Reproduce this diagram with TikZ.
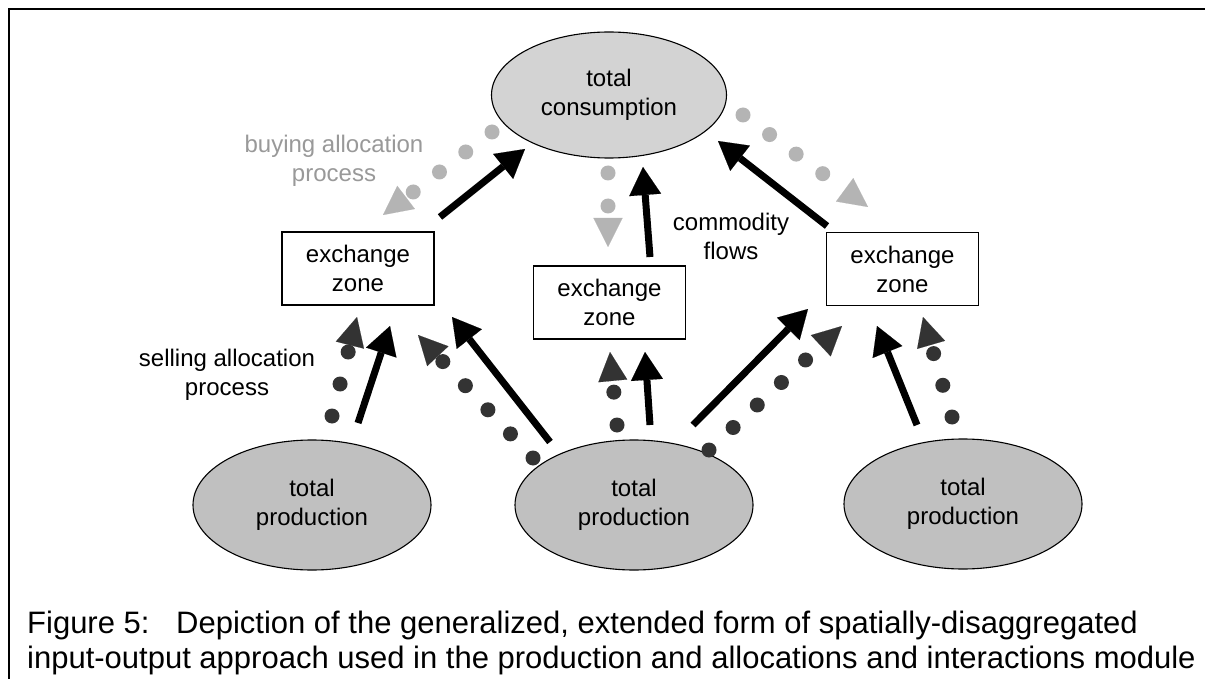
\documentclass[tikz,border=0pt]{standalone}
\usepackage{fontspec}
\setmainfont{Liberation Sans}
\usetikzlibrary{shapes.geometric,arrows.meta}
\definecolor{consfill}{HTML}{D3D3D3}
\definecolor{prodfill}{HTML}{C0C0C0}
\definecolor{lightdot}{HTML}{B4B4B4}
\definecolor{buytext}{HTML}{999999}
\definecolor{darkdot}{HTML}{333333}
\begin{document}
\begin{tikzpicture}[x=1pt,y=-1pt,
  txt/.style={font=\fontsize{24}{29}\selectfont, align=center, inner sep=0pt},
  cons/.style={ellipse, draw, line width=1.1pt, fill=consfill, minimum width=235pt, minimum height=126pt, txt},
  prod/.style={ellipse, draw, line width=1.1pt, fill=prodfill, minimum width=238pt, minimum height=130pt, txt},
  zone/.style={rectangle, draw, line width=1.1pt, fill=white, minimum width=152pt, minimum height=73pt, txt},
  flow/.style={line width=7pt, -{Triangle[length=28pt,width=32pt,line width=0.1pt]}},
  lightdots/.style={draw=lightdot, line width=15pt, line cap=round, dash pattern=on 0pt off 33pt,
    -{Triangle[length=29pt,width=29pt,line width=0.1pt,color=lightdot]}},
  darkdots/.style={draw=darkdot, line width=15pt, line cap=round, dash pattern=on 0pt off 33pt,
    -{Triangle[length=29pt,width=29pt,line width=0.1pt,color=darkdot]}},
  caption/.style={font=\fontsize{31}{37}\selectfont, anchor=base west, inner sep=0pt}
]
\useasboundingbox (0,0) rectangle (1205,679);
\fill[white] (0,0) rectangle (1205,679);
\draw[line width=2.2pt] (1205,9) -- (9,9) -- (9,679);

% nodes
\node[cons] (cons) at (609,95) {total\\consumption};
\node[zone] (zl) at (358,268.5) {exchange\\zone};
\node[zone] (zm) at (609.5,302.5) {exchange\\zone};
\node[zone] (zr) at (902.5,269) {exchange\\zone};
\node[prod] (pl) at (312,505) {total\\production};
\node[prod] (pm) at (634,505) {total\\production};
\node[prod] (pr) at (963,504) {total\\production};

% labels
\node[txt, text=buytext] (buy) at (334,161) {buying allocation\\process};
\node[txt] (comm) at (731,236) {commodity\\flows};
\node[txt] (sell) at (227,375) {selling allocation\\process};

% connector end points
\coordinate (b1s) at (440,217); \coordinate (b1e) at (525,149);
\coordinate (b2s) at (650,257); \coordinate (b2e) at (643,167);
\coordinate (b3s) at (827,226); \coordinate (b3e) at (718,141);
\coordinate (b4s) at (358,423); \coordinate (b4e) at (390,326);
\coordinate (b5s) at (550,442); \coordinate (b5e) at (452,317);
\coordinate (b6s) at (650,425); \coordinate (b6e) at (645,352);
\coordinate (b7s) at (693,425); \coordinate (b7e) at (808,309);
\coordinate (b8s) at (917,425); \coordinate (b8e) at (877,326);

\coordinate (g1s) at (492,132); \coordinate (g1e) at (383,215);
\coordinate (g2s) at (608,173); \coordinate (g2e) at (608,247);
\coordinate (g3s) at (743,115); \coordinate (g3e) at (868,207);

\coordinate (d1s) at (332,416); \coordinate (d1e) at (357,317);
\coordinate (d2s) at (533,458); \coordinate (d2e) at (418,335);
\coordinate (d3s) at (617,425); \coordinate (d3e) at (610,352);
\coordinate (d4s) at (709,450); \coordinate (d4e) at (842,326);
\coordinate (d5s) at (952,417); \coordinate (d5e) at (923,317);

% buying allocation (light dotted)
\draw[lightdots] (g1s) -- (g1e);
\draw[lightdots] (g2s) -- (g2e);
\draw[lightdots] (g3s) -- (g3e);

% selling allocation (dark dotted)
\draw[darkdots] (d1s) -- (d1e);
\draw[darkdots] (d2s) -- (d2e);
\draw[darkdots] (d3s) -- (d3e);
\draw[darkdots] (d4s) -- (d4e);
\draw[darkdots] (d5s) -- (d5e);

% commodity flows
\draw[flow] (b1s) -- (b1e);
\draw[flow] (b2s) -- (b2e);
\draw[flow] (b3s) -- (b3e);
\draw[flow] (b4s) -- (b4e);
\draw[flow] (b5s) -- (b5e);
\draw[flow] (b6s) -- (b6e);
\draw[flow] (b7s) -- (b7e);
\draw[flow] (b8s) -- (b8e);

% caption
\node[caption] (fig) at (27,633) {Figure 5:};
\node[caption] (cap1) at (176,633) {Depiction of the generalized, extended form of spatially-disaggregated};
\node[caption] (cap2) at (27,668) {input-output approach used in the production and allocations and interactions module};
\end{tikzpicture}
\end{document}
